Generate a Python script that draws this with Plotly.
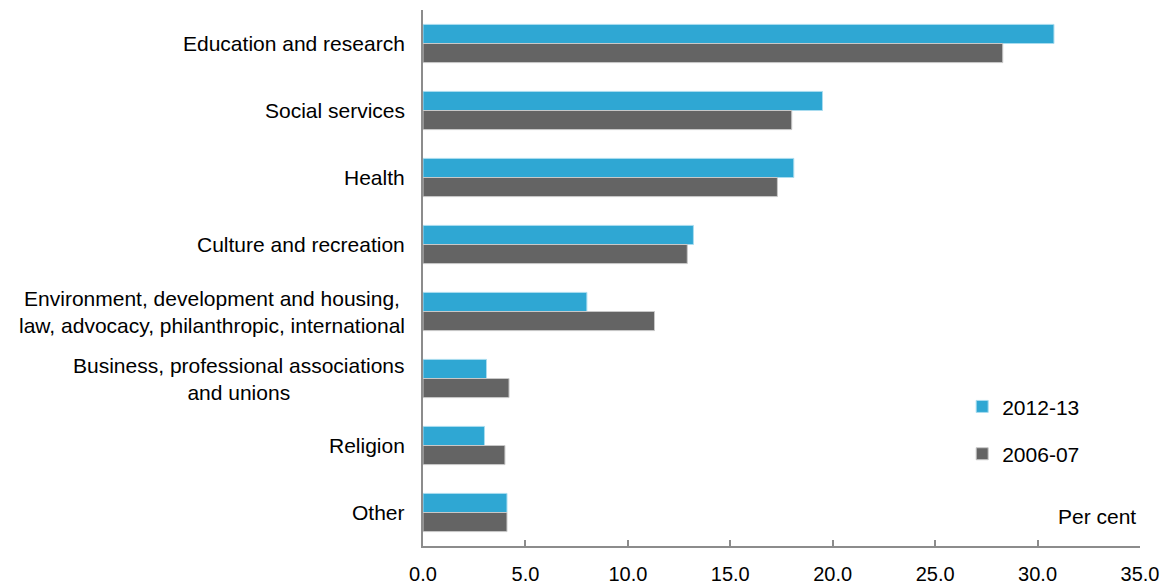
import plotly.graph_objects as go

# Share of sector, by activity area (per cent)
categories = [
    "Education and research",
    "Social services",
    "Health",
    "Culture and recreation",
    "Environment, development and housing,<br>law, advocacy, philanthropic, international",
    "Business, professional associations<br>and unions",
    "Religion",
    "Other",
]
values_2012_13 = [30.8, 19.5, 18.1, 13.2, 8.0, 3.1, 3.0, 4.1]
values_2006_07 = [28.3, 18.0, 17.3, 12.9, 11.3, 4.2, 4.0, 4.1]
series_names = ["2012-13", "2006-07"]
x_ticks = [0, 5, 10, 15, 20, 25, 30, 35]
x_tick_labels = ["0.0", "5.0", "10.0", "15.0", "20.0", "25.0", "30.0", "35.0"]

BLUE = "#2fa7d3"
GREY = "#646464"
AXIS = "#8c8c8c"
FONT = "Liberation Sans, Arial, sans-serif"

fig = go.Figure()
fig.add_trace(go.Bar(
    y=categories, x=values_2012_13, name=series_names[0], orientation="h",
    marker=dict(color=BLUE, line=dict(color="#a9dcef", width=1)),
    legendgroup="a",
))
fig.add_trace(go.Bar(
    y=categories, x=values_2006_07, name=series_names[1], orientation="h",
    marker=dict(color=GREY, line=dict(color="#c8c8c8", width=1)),
    legendgroup="b",
))

# Category labels, centred line by line and right-aligned against the axis
for cat in categories:
    fig.add_annotation(
        x=0, xref="paper", y=cat, yref="y", xanchor="right", yanchor="middle",
        xshift=-16, text=cat, showarrow=False, align="center",
        font=dict(family=FONT, size=21, color="#000000"),
    )

fig.add_annotation(
    x=1, xref="paper", y=0.055, yref="paper", xanchor="right", yanchor="middle",
    xshift=-2, text="Per cent", showarrow=False,
    font=dict(family=FONT, size=21, color="#000000"),
)

fig.update_layout(
    width=1169, height=586,
    margin=dict(l=423, r=29, t=10, b=40, autoexpand=False),
    paper_bgcolor="white", plot_bgcolor="white",
    barmode="group", bargap=0.43, bargroupgap=0,
    font=dict(family=FONT, size=21, color="#000000"),
    showlegend=True,
    legend=dict(
        x=0.752, xanchor="left", y=0.298, yanchor="top",
        bgcolor="rgba(0,0,0,0)", traceorder="grouped", tracegroupgap=17,
        font=dict(family=FONT, size=21, color="#000000"),
    ),
)
fig.update_xaxes(
    range=[0, 35], tickvals=x_ticks, ticktext=x_tick_labels,
    showgrid=False, zeroline=False, automargin=False,
    showline=True, linecolor=AXIS, linewidth=1.5,
    ticks="inside", ticklen=6, tickcolor=AXIS, tickwidth=1.5,
    ticklabelstandoff=9,
    tickfont=dict(family=FONT, size=20, color="#000000"),
)
fig.update_yaxes(
    autorange="reversed", showticklabels=False, ticks="",
    showgrid=False, zeroline=False, automargin=False,
    showline=True, linecolor=AXIS, linewidth=2,
)

fig.write_html("out.html")
